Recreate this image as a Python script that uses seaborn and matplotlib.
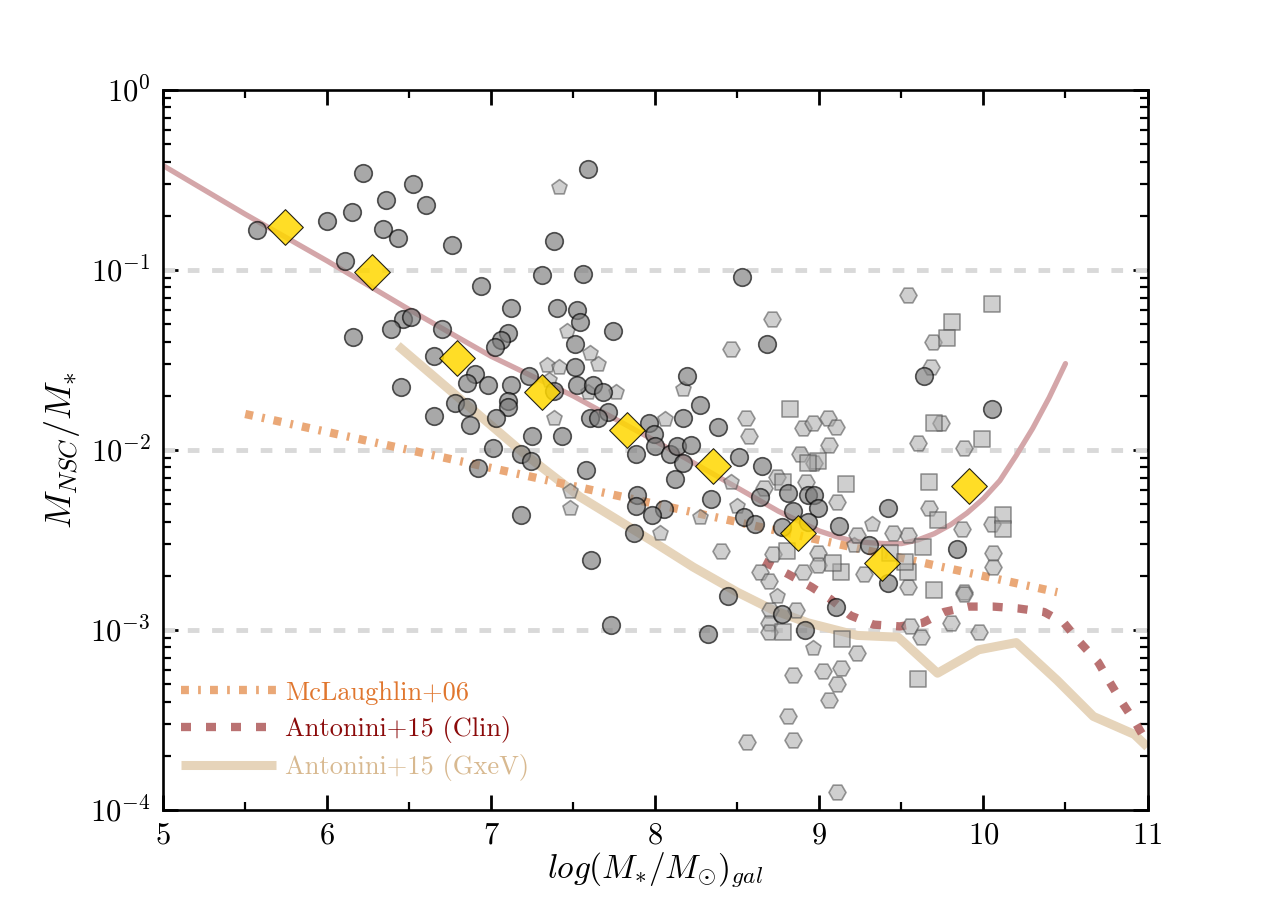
import numpy as np
import pandas as pd
import matplotlib
matplotlib.use("Agg")
import matplotlib.pyplot as plt
import seaborn as sns

# ---------------- data (log10 M*_gal, log10 M_NSC/M*) ----------------
circ_logm = [5.57, 6.00, 6.15, 6.22, 6.36, 6.52, 6.60, 6.34, 6.43, 6.76, 6.11, 6.94,
             6.46, 6.51, 6.39, 6.16, 6.70, 6.65, 6.90, 6.85, 6.98, 6.45, 6.78, 6.85,
             6.65, 6.87, 6.92, 7.59, 7.38, 7.31, 7.56, 7.12, 7.40, 7.52, 7.54, 7.74,
             7.10, 7.06, 7.02, 7.51, 7.51, 7.23, 7.12, 7.38, 7.52, 7.62, 7.68, 7.10,
             7.10, 7.03, 7.25, 7.43, 7.71, 7.60, 7.65, 7.01, 7.18, 7.24, 7.58, 8.53,
             8.19, 8.27, 8.17, 8.38, 7.96, 7.99, 7.88, 8.00, 8.09, 8.13, 8.22, 8.17,
             8.12, 8.34, 8.51, 8.65, 8.68, 7.89, 8.64, 8.81, 8.05, 8.54, 8.61, 8.84,
             8.93, 8.97, 8.99, 8.93, 9.12, 8.77, 9.42, 9.30, 9.42, 9.84, 10.05, 9.64,
             8.44, 9.10, 8.77, 8.91, 8.32, 7.61, 7.73, 7.18, 7.88, 7.98, 7.87]
circ_logr = [-0.78, -0.73, -0.68, -0.46, -0.61, -0.52, -0.64, -0.77, -0.82, -0.86, -0.95, -1.09,
             -1.27, -1.26, -1.33, -1.37, -1.33, -1.48, -1.58, -1.63, -1.64, -1.65, -1.74, -1.76,
             -1.81, -1.86, -2.10, -0.44, -0.84, -1.03, -1.02, -1.21, -1.21, -1.22, -1.29, -1.34,
             -1.35, -1.39, -1.43, -1.41, -1.54, -1.59, -1.64, -1.67, -1.64, -1.64, -1.68, -1.73,
             -1.76, -1.82, -1.92, -1.92, -1.79, -1.82, -1.82, -1.99, -2.02, -2.06, -2.11, -1.04,
             -1.59, -1.75, -1.82, -1.87, -1.85, -1.91, -2.02, -1.98, -2.02, -1.98, -1.97, -2.07,
             -2.16, -2.27, -2.04, -2.09, -1.41, -2.25, -2.26, -2.24, -2.33, -2.37, -2.41, -2.34,
             -2.25, -2.25, -2.32, -2.40, -2.42, -2.43, -2.32, -2.53, -2.74, -2.55, -1.77, -1.59,
             -2.81, -2.87, -2.91, -3.00, -3.02, -2.61, -2.97, -2.36, -2.31, -2.36, -2.46]

pent_logm = [7.41, 7.46, 7.60, 7.65, 7.34, 7.41, 7.35, 7.76, 7.59, 7.38, 8.06, 8.17,
             7.48, 7.48, 8.46, 8.27, 8.50, 9.32, 9.21, 8.96, 8.74, 8.03]
pent_logr = [-0.54, -1.34, -1.46, -1.52, -1.53, -1.54, -1.61, -1.68, -1.68, -1.82, -1.83, -1.66,
             -2.23, -2.32, -2.18, -2.37, -2.31, -2.41, -2.53, -3.10, -2.81, -2.46]

hex_logm = [8.71, 8.46, 8.55, 8.57, 8.90, 8.88, 8.74, 8.66, 8.96, 9.05, 9.10, 9.06,
            8.97, 9.60, 9.88, 8.40, 8.72, 8.99, 8.90, 8.64, 8.69, 8.99, 8.86, 8.70,
            8.69, 8.69, 9.55, 9.62, 9.80, 9.88, 9.87, 9.67, 9.54, 9.23, 9.13, 9.02,
            8.84, 9.54, 9.45, 9.23, 9.27, 9.54, 9.69, 9.68, 9.74, 10.05, 10.06, 10.06,
            9.88, 9.97, 9.11, 9.06, 8.81, 8.56, 8.84, 9.11, 8.92, 9.11]
hex_logr = [-1.27, -1.44, -1.82, -1.92, -1.88, -2.02, -2.15, -2.21, -1.85, -1.82, -1.87, -1.97,
            -2.07, -1.96, -1.99, -2.56, -2.58, -2.57, -2.68, -2.68, -2.73, -2.64, -2.89, -2.89,
            -2.96, -3.01, -2.98, -3.04, -2.96, -2.79, -2.44, -2.32, -2.76, -3.13, -3.21, -3.23,
            -3.25, -2.47, -2.46, -2.47, -2.69, -1.14, -1.40, -1.54, -1.85, -2.41, -2.57, -2.65,
            -2.80, -3.01, -3.30, -3.39, -3.48, -3.62, -3.61, -3.90, -2.18, -2.29]

sq_logm = [8.82, 9.70, 9.99, 8.99, 8.93, 9.16, 9.67, 8.78, 9.72, 8.80, 9.63, 9.13,
           9.54, 9.70, 8.78, 9.14, 9.60, 9.08, 9.43, 9.52, 10.05, 9.81, 9.78, 10.12, 10.12]
sq_logr = [-1.77, -1.85, -1.94, -2.06, -2.07, -2.19, -2.18, -2.18, -2.39, -2.56, -2.54, -2.68,
           -2.68, -2.78, -3.01, -3.05, -3.27, -2.63, -2.57, -2.62, -1.19, -1.29, -1.38, -2.36, -2.44]

bin_logm = [5.74, 6.27, 6.79, 7.31, 7.83, 8.35, 8.87, 9.38, 9.91]
bin_logr = [-0.76, -1.01, -1.49, -1.68, -1.89, -2.09, -2.46, -2.63, -2.20]

fit_logm = [5.0, 5.5, 6.0, 6.5, 7.0, 7.5, 8.0, 8.5, 8.75, 9.0, 9.1, 9.2, 9.3, 9.4, 9.5,
            9.6, 9.7, 9.8, 9.9, 10.0, 10.1, 10.2, 10.3, 10.4, 10.5]
fit_logr = [-0.42, -0.69, -0.95, -1.22, -1.48, -1.70, -1.95, -2.21, -2.34, -2.45, -2.48, -2.505,
            -2.515, -2.52, -2.52, -2.50, -2.465, -2.415, -2.35, -2.27, -2.17, -2.03, -1.88,
            -1.71, -1.52]

mcl_logm = [5.5, 8.0, 10.45]
mcl_logr = [-1.80, -2.30, -2.79]

clin_logm = [8.66, 8.81, 8.95, 9.07, 9.19, 9.33, 9.49, 9.63, 9.76, 9.91, 10.06, 10.21,
             10.37, 10.49, 10.59, 10.70, 10.77, 10.85, 10.93, 11.0]
clin_logr = [-2.62, -2.69, -2.76, -2.83, -2.92, -2.97, -2.98, -2.96, -2.90, -2.87, -2.87, -2.88,
             -2.90, -2.96, -3.07, -3.18, -3.29, -3.41, -3.52, -3.63]

gxev_logm = [6.43, 7.20, 7.54, 7.97, 8.23, 8.50, 8.72, 8.93, 9.23, 9.48, 9.72, 9.97,
             10.20, 10.45, 10.67, 10.92, 11.0]
gxev_logr = [-1.42, -2.02, -2.26, -2.50, -2.65, -2.79, -2.89, -2.96, -3.03, -3.04, -3.24, -3.11,
             -3.07, -3.28, -3.48, -3.58, -3.65]

ref_levels = [1e-1, 1e-2, 1e-3]
legend_labels = ["McLaughlin+06", "Antonini+15 (Clin)", "Antonini+15 (GxeV)"]
legend_colors = ["#e0762e", "#8b0a0a", "#d8b990"]

# ---------------- style ----------------
sns.set_style("ticks")
plt.rcParams["font.family"] = ["cmr10", "DejaVu Serif"]
plt.rcParams["mathtext.fontset"] = "cm"
plt.rcParams["axes.formatter.use_mathtext"] = True
plt.rcParams["axes.linewidth"] = 1.9
plt.rcParams["axes.edgecolor"] = "black"
plt.rcParams["xtick.color"] = "black"
plt.rcParams["ytick.color"] = "black"
plt.rcParams["text.color"] = "black"
plt.rcParams["axes.labelcolor"] = "black"

fig = plt.figure(figsize=(12.75, 9), dpi=100)
ax = fig.add_axes([0.128, 0.1, 0.772, 0.8])
ax.set_yscale("log")

def df(x, y):
    return pd.DataFrame({"x": np.asarray(x, float), "y": 10 ** np.asarray(y, float)})

for lv in ref_levels:
    ax.axhline(lv, color="#d9d9d9", lw=3.5, linestyle=(0, (2.4, 2.6)), zorder=1)

d = df(gxev_logm, gxev_logr)
sns.lineplot(data=d, x="x", y="y", ax=ax, estimator=None, sort=False,
             color="#e6d4ba", lw=6.5, solid_capstyle="butt", zorder=2)
l_gxev = ax.lines[-1]

d = df(fit_logm, fit_logr)
sns.lineplot(data=d, x="x", y="y", ax=ax, estimator=None, sort=False,
             color="#d4a6a9", lw=3.8, zorder=2)

d = df(clin_logm, clin_logr)
sns.lineplot(data=d, x="x", y="y", ax=ax, estimator=None, sort=False,
             color="#b36363", alpha=0.9, lw=6, linestyle=(0, (1.2, 1.8)), zorder=2)
l_clin = ax.lines[-1]

d = df(mcl_logm, mcl_logr)
sns.lineplot(data=d, x="x", y="y", ax=ax, estimator=None, sort=False,
             color="#eaa877", lw=6.0, linestyle=(0, (0.95, 1.1, 0.33, 1.1)), zorder=2)
l_mcl = ax.lines[-1]

sns.scatterplot(data=df(pent_logm, pent_logr), x="x", y="y", ax=ax, marker="p", s=130,
                color="#a8a8a8", edgecolor="#4a4a4a", linewidth=1.2, alpha=0.55, zorder=3)
sns.scatterplot(data=df(hex_logm, hex_logr), x="x", y="y", ax=ax, marker="H", s=150,
                color="#a8a8a8", edgecolor="#4a4a4a", linewidth=1.2, alpha=0.55, zorder=3)
sns.scatterplot(data=df(sq_logm, sq_logr), x="x", y="y", ax=ax, marker="s", s=140,
                color="#a8a8a8", edgecolor="#4a4a4a", linewidth=1.2, alpha=0.55, zorder=3)
sns.scatterplot(data=df(circ_logm, circ_logr), x="x", y="y", ax=ax, marker="o", s=160,
                color="#7a7a7a", edgecolor="#000000", linewidth=1.2, alpha=0.65, zorder=4)
sns.scatterplot(data=df(bin_logm, bin_logr), x="x", y="y", ax=ax, marker="D", s=330,
                color="#ffd700", edgecolor="#000000", linewidth=0.8, alpha=0.85, zorder=5)

ax.set_xlim(5, 11)
ax.set_ylim(1e-4, 1)
ax.set_xticks([5, 6, 7, 8, 9, 10, 11])
ax.set_xticks(np.arange(5.5, 11, 1.0), minor=True)
ax.tick_params(which="both", direction="in", top=True, right=True, labelsize=22, pad=9)
ax.tick_params(which="major", length=11, width=2)
ax.tick_params(which="minor", length=5.5, width=1.6)

ax.set_xlabel(r"$log(M_{*}/M_{\odot})_{gal}$", fontsize=24, labelpad=0)
ax.set_ylabel(r"$M_{NSC}/M_{*}$", fontsize=26, labelpad=6)

leg = ax.legend(handles=[l_mcl, l_clin, l_gxev], labels=legend_labels, loc="lower left",
                bbox_to_anchor=(-0.006, 0.007), frameon=False, fontsize=19,
                handlelength=3.6, handletextpad=0.35, labelspacing=0.43)
for t, c in zip(leg.get_texts(), legend_colors):
    t.set_color(c)

fig.savefig("out.png", dpi=100)
